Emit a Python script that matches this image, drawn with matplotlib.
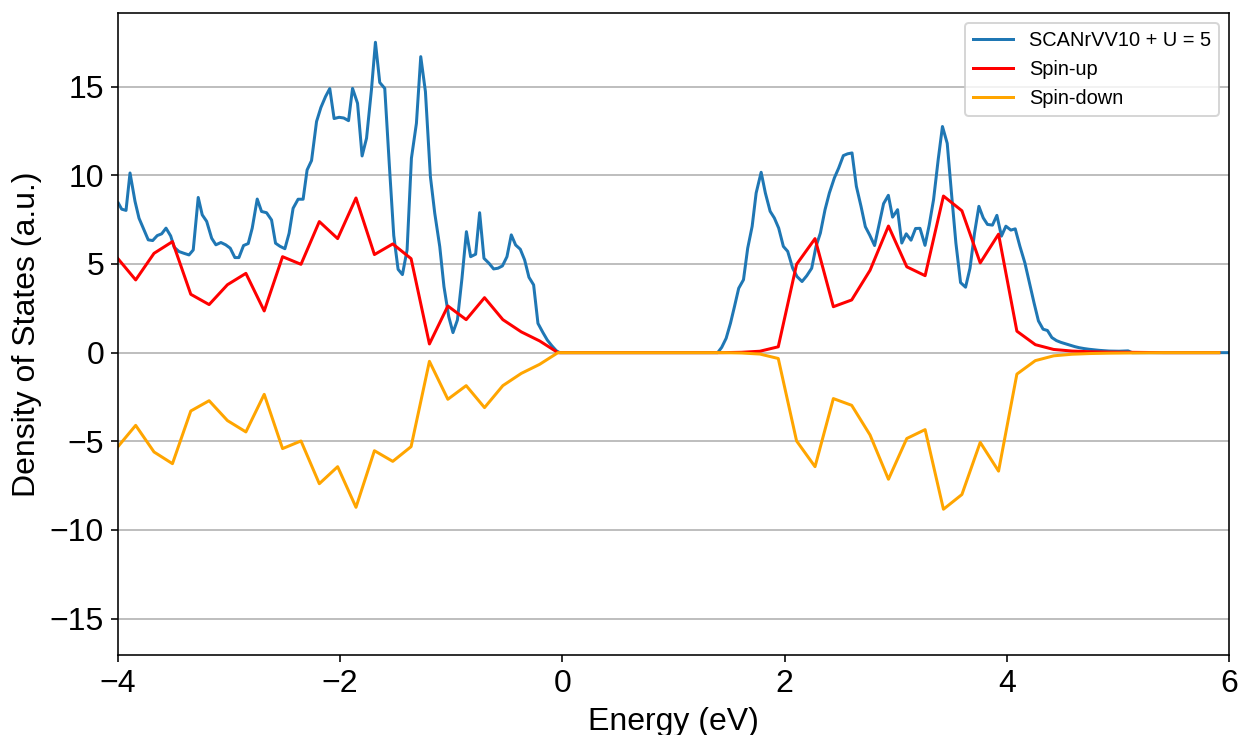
import matplotlib
matplotlib.use("Agg")
import matplotlib.pyplot as plt

plt.rcParams['font.family'] = ['Liberation Sans', 'DejaVu Sans']

# total DOS (SCANrVV10 + U = 5)
energy_total = [
    -3.997, -3.967, -3.928, -3.892, -3.847, -3.811, -3.766, -3.728, -3.688, -3.647,
    -3.607, -3.568, -3.526, -3.494, -3.451, -3.406, -3.361, -3.323, -3.278, -3.242,
    -3.202, -3.157, -3.119, -3.074, -3.031, -2.990, -2.948, -2.912, -2.870, -2.828,
    -2.792, -2.747, -2.708, -2.663, -2.618, -2.582, -2.543, -2.498, -2.460, -2.424,
    -2.379, -2.334, -2.298, -2.258, -2.213, -2.174, -2.132, -2.094, -2.055, -2.010,
    -1.968, -1.925, -1.889, -1.844, -1.803, -1.763, -1.719, -1.683, -1.644, -1.599,
    -1.558, -1.518, -1.479, -1.440, -1.398, -1.359, -1.314, -1.275, -1.233, -1.188,
    -1.149, -1.104, -1.066, -1.023, -0.985, -0.945, -0.904, -0.864, -0.826, -0.781,
    -0.745, -0.706, -0.661, -0.619, -0.580, -0.540, -0.499, -0.460, -0.421, -0.379,
    -0.340, -0.301, -0.259, -0.220, -0.175, -0.136, -0.094, -0.055, -0.025,
    1.398, 1.434, 1.474, 1.513, 1.549, 1.587, 1.630, 1.668, 1.708, 1.744,
    1.789, 1.827, 1.870, 1.908, 1.947, 1.989, 2.028, 2.073, 2.112, 2.157,
    2.199, 2.244, 2.283, 2.322, 2.364, 2.403, 2.448, 2.487, 2.529, 2.567,
    2.607, 2.646, 2.688, 2.727, 2.767, 2.810, 2.853, 2.891, 2.934, 2.972,
    3.017, 3.055, 3.095, 3.138, 3.179, 3.219, 3.264, 3.302, 3.341, 3.383,
    3.421, 3.464, 3.502, 3.542, 3.584, 3.629, 3.669, 3.710, 3.749, 3.788,
    3.826, 3.871, 3.911, 3.952, 3.992, 4.037, 4.076, 4.118, 4.163, 4.201,
    4.246, 4.285, 4.327, 4.366, 4.406, 4.447, 4.487, 4.532, 4.570, 4.612,
    4.651, 4.696, 4.741, 4.831, 4.921, 5.011, 5.092, 5.128, 6.0,
]
dos_total = [
    8.43, 8.09, 8.02, 10.13, 8.53, 7.58, 6.92, 6.36, 6.32, 6.60,
    6.70, 7.02, 6.58, 5.94, 5.70, 5.60, 5.51, 5.79, 8.75, 7.77,
    7.40, 6.45, 6.08, 6.21, 6.08, 5.89, 5.36, 5.36, 6.04, 6.15,
    7.02, 8.66, 7.96, 7.89, 7.48, 6.17, 6.00, 5.86, 6.73, 8.14,
    8.65, 8.65, 10.30, 10.83, 13.03, 13.82, 14.44, 14.89, 13.20, 13.27,
    13.23, 13.08, 14.90, 14.06, 11.09, 12.09, 14.81, 17.50, 15.23, 14.90,
    10.60, 6.60, 4.70, 4.40, 5.79, 10.96, 12.93, 16.69, 14.72, 9.92,
    7.86, 5.98, 3.72, 2.03, 1.13, 1.84, 4.19, 6.82, 5.41, 5.55,
    7.89, 5.32, 5.04, 4.72, 4.76, 4.89, 5.41, 6.64, 6.07, 5.83,
    5.23, 4.25, 3.82, 1.65, 1.13, 0.71, 0.38, 0.11, 0.0,
    0.0, 0.30, 0.81, 1.66, 2.60, 3.63, 4.11, 5.89, 7.12, 9.00,
    10.17, 9.00, 7.97, 7.59, 7.02, 5.99, 5.71, 4.76, 4.29, 4.01,
    4.33, 4.76, 5.99, 6.74, 8.06, 9.00, 9.85, 10.41, 11.11, 11.21,
    11.26, 9.38, 8.25, 7.10, 6.62, 6.04, 7.30, 8.40, 8.87, 7.64,
    8.06, 6.18, 6.70, 6.34, 7.00, 7.01, 6.05, 7.20, 8.63, 10.90,
    12.75, 11.80, 9.01, 6.18, 3.95, 3.69, 4.76, 6.75, 8.25, 7.60,
    7.23, 7.19, 7.74, 6.57, 7.13, 6.91, 6.98, 6.00, 5.06, 4.02,
    2.79, 1.79, 1.32, 1.25, 0.85, 0.68, 0.58, 0.49, 0.42, 0.34,
    0.28, 0.23, 0.19, 0.13, 0.09, 0.08, 0.10, 0.0, 0.0,
]

# spin-resolved DOS on the coarser grid
energy_spin = [
    -4.006, -3.841, -3.676, -3.510, -3.345, -3.180, -3.015, -2.849, -2.684, -2.519,
    -2.353, -2.188, -2.023, -1.858, -1.692, -1.527, -1.362, -1.197, -1.031, -0.866,
    -0.701, -0.536, -0.370, -0.205, -0.040, 0.125, 0.291, 0.456, 0.621, 0.786,
    0.952, 1.117, 1.282, 1.447, 1.613, 1.778, 1.943, 2.108, 2.274, 2.439,
    2.604, 2.769, 2.935, 3.100, 3.265, 3.430, 3.596, 3.761, 3.926, 4.091,
    4.257, 4.422, 4.587, 4.752, 4.918, 5.083, 5.248, 5.413, 5.579, 5.744, 5.909,
]
spin_up = [
    5.34, 4.10, 5.60, 6.26, 3.29, 2.71, 3.83, 4.47, 2.35, 5.41,
    4.98, 7.39, 6.43, 8.72, 5.53, 6.13, 5.30, 0.49, 2.63, 1.86,
    3.10, 1.86, 1.17, 0.66, 0.0, 0.0, 0.0, 0.0, 0.0, 0.0,
    0.0, 0.0, 0.0, 0.0, 0.02, 0.08, 0.33, 4.98, 6.43, 2.59,
    2.97, 4.64, 7.14, 4.84, 4.34, 8.83, 8.00, 5.06, 6.68, 1.21,
    0.45, 0.18, 0.09, 0.05, 0.03, 0.02, 0.01, 0.0, 0.0, 0.0, 0.0,
]
spin_down = [-v for v in spin_up]

fig = plt.figure(figsize=(1241 / 144, 735 / 144), dpi=144)
ax = fig.add_subplot(111)
fig.subplots_adjust(left=0.0951, right=0.9903, top=0.9823, bottom=0.1088)

ax.plot(energy_total, dos_total, color='#1f77b4', lw=1.5, label='SCANrVV10 + U = 5')
ax.plot(energy_spin, spin_up, color='red', lw=1.5, label='Spin-up')
ax.plot(energy_spin, spin_down, color='orange', lw=1.5, label='Spin-down')

ax.set_xlim(-4, 6)
ax.set_ylim(-17.05, 19.15)
ax.set_yticks([-15, -10, -5, 0, 5, 10, 15])
ax.grid(True, axis='y')
ax.tick_params(labelsize=16)
ax.set_xlabel('Energy (eV)', fontsize=16)
ax.set_ylabel('Density of States (a.u.)', fontsize=16)
ax.legend(loc='upper right', fontsize=10)

fig.savefig('out.png', dpi=144)
